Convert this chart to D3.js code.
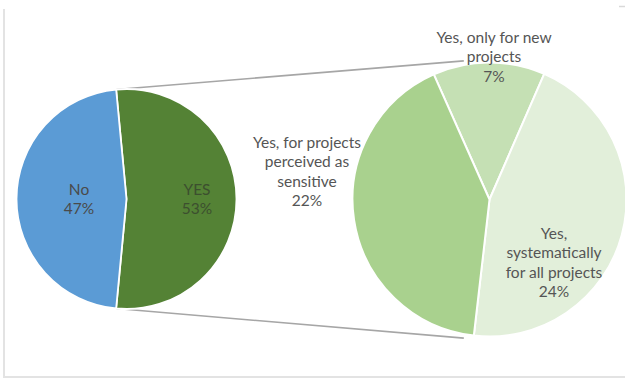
<!DOCTYPE html>
<html>
<head>
<meta charset="utf-8">
<script src="https://cdn.jsdelivr.net/npm/d3@7"></script>
<style>
  html, body { margin: 0; padding: 0; background: #fff; }
  svg { display: block; }
  text { font-family: Lato, "Open Sans", sans-serif; }
</style>
</head>
<body>
<svg id="chart" width="625" height="379"></svg>
<script>
// Main answer split
const mainCategories = ["YES", "No"];
const mainValues = [53, 47];
const mainColors = ["#548235", "#5b9bd5"];

// Breakdown of the "YES" share
const subCategories = [
  ["Yes, only for new", "projects"],
  ["Yes,", "systematically", "for all projects"],
  ["Yes, for projects", "perceived as", "sensitive"]
];
const subValues = [7, 24, 22];
const subColors = ["#c5e0b4", "#e2efda", "#a9d18e"];

const svg = d3.select("#chart");
const toRad = d => d * Math.PI / 180;

// light frame around the chart area
svg.append("path")
  .attr("d", `M4,9 V377 H625`)
  .attr("fill", "none").attr("stroke", "#e3e3e3").attr("stroke-width", 2);
svg.append("line").attr("x1", 619).attr("x2", 625).attr("y1", 6.5).attr("y2", 6.5)
  .attr("stroke", "#d9d9d9").attr("stroke-width", 1.5);

// ---------- primary pie ----------
const mc = { x: 126.5, y: 199, r: 110 };
const yesShare = mainValues[0] / d3.sum(mainValues);
const mainStart = Math.PI / 2 - Math.PI * yesShare;   // YES slice centred on the right
const mainPie = d3.pie().sort(null).value(d => d)
  .startAngle(mainStart).endAngle(mainStart + 2 * Math.PI);
const mainArcs = mainPie(mainValues);
const mainArc = d3.arc().innerRadius(0).outerRadius(mc.r);

// ---------- secondary pie ----------
const sc = { x: 489.5, y: 199.5, r: 137 };
const subStart = toRad(-24);
const subPie = d3.pie().sort(null).value(d => d)
  .startAngle(subStart).endAngle(subStart + 2 * Math.PI);
const subArcs = subPie(subValues);
const subArc = d3.arc().innerRadius(0).outerRadius(sc.r);

// connector lines from the YES slice edges to the secondary pie
const yesArc = mainArcs[0];
const pt = (c, r, a) => [c.x + r * Math.sin(a), c.y - r * Math.cos(a)];
const connectors = [
  [pt(mc, mc.r, yesArc.startAngle), pt(sc, sc.r + 4, toRad(-10.5))],
  [pt(mc, mc.r, yesArc.endAngle), pt(sc, sc.r + 4, toRad(190.5))]
];
svg.append("g").selectAll("line").data(connectors).join("line")
  .attr("x1", d => d[0][0]).attr("y1", d => d[0][1])
  .attr("x2", d => d[1][0]).attr("y2", d => d[1][1])
  .attr("stroke", "#a6a6a6").attr("stroke-width", 1.6);

const gMain = svg.append("g").attr("transform", `translate(${mc.x},${mc.y})`);
gMain.selectAll("path").data(mainArcs).join("path")
  .attr("d", mainArc)
  .attr("fill", (d, i) => mainColors[i])
  .attr("stroke", "#fff").attr("stroke-width", 1.8).attr("stroke-linejoin", "round");

const gSub = svg.append("g").attr("transform", `translate(${sc.x},${sc.y})`);
gSub.selectAll("path").data(subArcs).join("path")
  .attr("d", subArc)
  .attr("fill", (d, i) => subColors[i])
  .attr("stroke", "#fff").attr("stroke-width", 2).attr("stroke-linejoin", "round");

// ---------- labels ----------
const lineH = 19.3;
function label(x, yTop, lines, color) {
  const t = svg.append("text")
    .attr("text-anchor", "middle")
    .attr("font-size", 15.5)
    .attr("fill", color || "#555");
  lines.forEach((s, i) => {
    t.append("tspan").attr("x", x).attr("y", yTop + i * lineH)
      .attr("dominant-baseline", "central").text(s);
  });
}
const pct = v => v + "%";

label(79, 189, [mainCategories[1], pct(mainValues[1])], "#4a4a4a");
label(197, 189, [mainCategories[0], pct(mainValues[0])], "#3c4f2f");

label(494, 37, [...subCategories[0], pct(subValues[0])]);
label(554, 233, [...subCategories[1], pct(subValues[1])]);
label(307, 142, [...subCategories[2], pct(subValues[2])]);
</script>
</body>
</html>
